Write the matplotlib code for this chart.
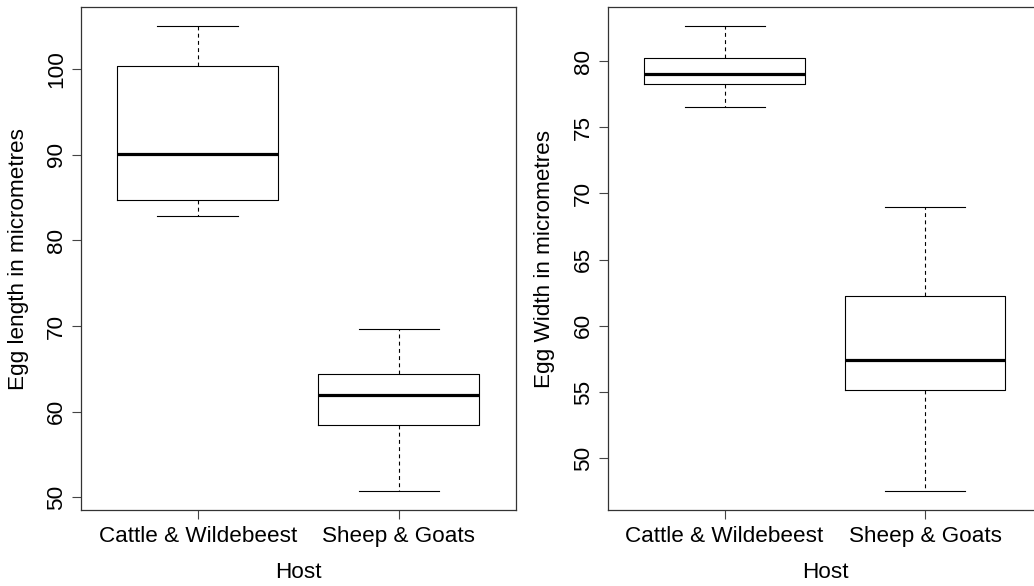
import matplotlib
matplotlib.use("Agg")
import matplotlib.pyplot as plt

plt.rcParams['font.family'] = ['Liberation Sans', 'DejaVu Sans']

hosts = ["Cattle & Wildebeest", "Sheep & Goats"]

# Egg length (micrometres): lower whisker, Q1, median, Q3, upper whisker
length_whislo = [82.8, 50.7]
length_q1 = [84.7, 58.4]
length_med = [90.1, 61.95]
length_q3 = [100.4, 64.45]
length_whishi = [105.05, 69.7]

# Egg width (micrometres)
width_whislo = [76.55, 47.5]
width_q1 = [78.25, 55.15]
width_med = [79.05, 57.4]
width_q3 = [80.2, 62.25]
width_whishi = [82.65, 68.95]

length_ticks = [50, 60, 70, 80, 90, 100]
width_ticks = [50, 55, 60, 65, 70, 75, 80]

FS = 16.2
W, H = 1034, 586
fig = plt.figure(figsize=(W / 100, H / 100), dpi=100)

def make_stats(lo, q1, med, q3, hi):
    return [dict(whislo=a, q1=b, med=c, q3=d, whishi=e, fliers=[], label=h)
            for a, b, c, d, e, h in zip(lo, q1, med, q3, hi, hosts)]

def draw(ax, stats, ticks, ylabel, ylabel_x):
    lw = 0.8
    ax.bxp(stats, positions=[1, 2], widths=0.8, showfliers=False,
           boxprops=dict(color='black', linewidth=lw),
           medianprops=dict(color='black', linewidth=2.3, solid_capstyle='butt'),
           whiskerprops=dict(color='black', linewidth=lw, linestyle=(0, (3.5, 3))),
           capprops=dict(color='black', linewidth=lw),
           capwidths=0.4)
    lo = min(s['whislo'] for s in stats)
    hi = max(s['whishi'] for s in stats)
    r = hi - lo
    ax.set_ylim(lo - 0.04 * r, hi + 0.04 * r)
    ax.set_xlim(0.42, 2.58)
    ax.set_yticks(ticks)
    ax.set_yticklabels([str(t) for t in ticks], rotation=90, va='center')
    ax.set_xticks([1, 2])
    ax.set_xticklabels(hosts)
    ax.tick_params(axis='both', labelsize=FS, length=6.2, width=0.8, color='#444444')
    ax.tick_params(axis='x', pad=5.5)
    ax.tick_params(axis='y', pad=4)
    for sp in ax.spines.values():
        sp.set_linewidth(0.9)
        sp.set_color('#333333')
    ax.set_xlabel("Host", fontsize=FS)
    ax.set_ylabel(ylabel, fontsize=FS)
    ax.xaxis.set_label_coords(0.5, -0.103)
    ax.yaxis.set_label_coords(ylabel_x, 0.5)

ax1 = fig.add_axes([81 / W, (H - 510) / H, (515.7 - 81) / W, (510 - 7.3) / H])
draw(ax1, make_stats(length_whislo, length_q1, length_med, length_q3, length_whishi),
     length_ticks, "Egg length in micrometres", -0.120)

ax2 = fig.add_axes([608.3 / W, (H - 510) / H, (1041.5 - 608.3) / W, (510 - 7.3) / H])
draw(ax2, make_stats(width_whislo, width_q1, width_med, width_q3, width_whishi),
     width_ticks, "Egg Width in micrometres", -0.122)

fig.savefig("out.png", dpi=100)
